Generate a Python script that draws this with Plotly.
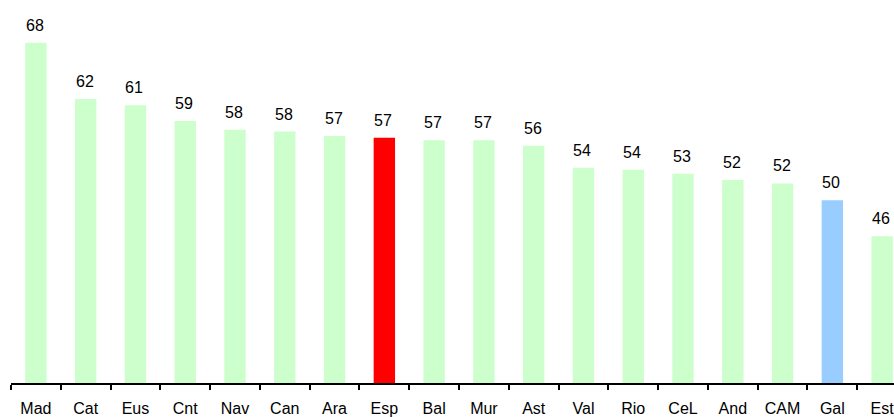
import plotly.graph_objects as go

categories = ["Mad", "Cat", "Eus", "Cnt", "Nav", "Can", "Ara", "Esp", "Bal",
              "Mur", "Ast", "Val", "Rio", "CeL", "And", "CAM", "Gal", "Est"]
values = [68.0, 61.6, 60.9, 59.1, 58.1, 57.9, 57.4, 57.2, 56.9,
          56.9, 56.3, 53.8, 53.55, 53.1, 52.4, 52.0, 50.1, 46.0]

GREEN = "#CCFFCC"
RED = "#FF0000"
BLUE = "#99CCFF"
highlight = {"Esp": RED, "Gal": BLUE}
colors = [highlight.get(c, GREEN) for c in categories]

fig = go.Figure()
fig.add_trace(go.Bar(
    x=categories,
    y=values,
    marker=dict(color=colors, line=dict(width=0)),
    width=0.43,
    hoverinfo="x+y",
))

for c, v in zip(categories, values):
    fig.add_annotation(
        x=c, y=v, text=f"{v:.0f}", showarrow=False,
        yanchor="bottom", xanchor="center", yshift=7, xshift=-1,
        font=dict(family="Liberation Sans, Arial", size=16, color="#000000"),
    )

fig.update_layout(
    width=894, height=417,
    margin=dict(l=11, r=0, t=0, b=34),
    paper_bgcolor="white", plot_bgcolor="white",
    showlegend=False,
    bargap=0.57,
    font=dict(family="Liberation Sans, Arial", size=16, color="#000000"),
)
fig.update_xaxes(
    range=[-0.5, 17.238],
    showline=True, linecolor="#000000", linewidth=2,
    ticks="outside", tickson="boundaries", ticklen=5, tickwidth=1.5, tickcolor="#000000",
    ticklabelstandoff=10,
    showgrid=False, zeroline=False,
    tickfont=dict(family="Liberation Sans, Arial", size=16, color="#000000"),
)
fig.update_yaxes(
    range=[29.33, 72.85],
    visible=False, showgrid=False, zeroline=False,
)

fig.write_html(
    "out.html",
    config={"displayModeBar": False},
    post_script="document.body.style.margin='0';document.body.style.overflow='hidden';",
)
